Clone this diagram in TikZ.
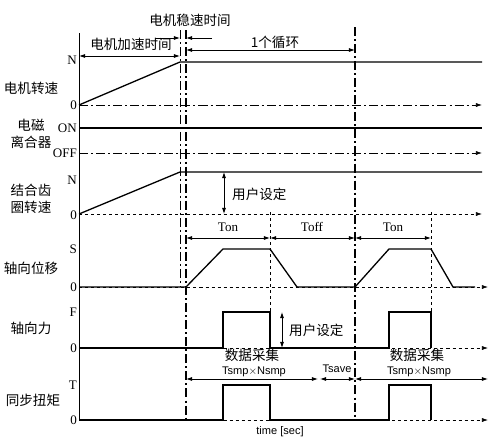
\documentclass[tikz,border=0pt]{standalone}
\usepackage{fontspec}
\setmainfont{Liberation Serif}
\setsansfont{Liberation Sans}
\newfontfamily\cjk{Noto Sans CJK SC}
\usetikzlibrary{arrows.meta}

\tikzset{
  sig/.style={line width=1.3pt},
  axisline/.style={line width=0.6pt},
  tip/.style={-{Latex[length=6pt,width=4pt]}},
  dim/.style={line width=0.8pt,{Latex[length=6pt,width=4pt]}-{Latex[length=6pt,width=4pt]}},
  dashdot/.style={dash pattern=on 9pt off 3pt on 2pt off 3pt},
  cn/.style={font=\cjk\fontsize{13.5}{17}\selectfont, align=center, inner sep=0pt},
  tick/.style={font=\fontsize{13}{15}\selectfont, anchor=east, inner sep=1pt},
  lbl/.style={font=\fontsize{13}{15}\selectfont, inner sep=0pt},
  sm/.style={font=\sffamily\fontsize{11}{12}\selectfont, inner sep=0pt}
}

\begin{document}
\begin{tikzpicture}[x=0.035cm, y=-0.035cm]
    \useasboundingbox (0,0) rectangle (500,446);

    % time axis
    \draw[axisline] (79,33) -- (79,420);

    % row labels
    \node[cn] (l1) at (31,88) {电机转速};
    \node[cn] (l2) at (31,134) {电磁\\离合器};
    \node[cn] (l3) at (31,199) {结合齿\\圈转速};
    \node[cn] (l4) at (31,268) {轴向位移};
    \node[cn] (l5) at (31,328) {轴向力};
    \node[cn] (l6) at (33,400) {同步扭矩};

    % tick labels
    \node[tick] (n1) at (78,60) {N};
    \node[tick] (z1) at (78,105) {0};
    \node[tick] (on) at (78,128) {ON};
    \node[tick] (off) at (78,153) {OFF};
    \node[tick] (n2) at (78,180) {N};
    \node[tick] (z2) at (78,215) {0};
    \node[tick] (s) at (78,249) {S};
    \node[tick] (z3) at (78,287) {0};
    \node[tick] (f) at (78,312) {F};
    \node[tick] (z4) at (78,348) {0};
    \node[tick] (t) at (78,385) {T};
    \node[tick] (z5) at (78,420) {0};

    % marker lines
    \draw[line width=0.5pt, dashdot] (180,30) -- (180,287);
    \draw[line width=1.2pt, dashdot] (186,30) -- (186,420);
    \draw[line width=1.2pt, dashdot] (355,27) -- (355,420);
    \foreach \x in {270,431}
       \draw[line width=0.6pt, dashed] (\x,212) -- (\x,312);

    % motor speed
    \draw[axisline, tip, dashdot] (79,105) -- (482,105);
    \draw[sig] (79,105) -- (180,62) -- (482,62);

    % clutch
    \draw[sig] (79,128) -- (482,128);
    \draw[axisline, tip, dashdot] (79,153) -- (482,153);

    % gear ring speed
    \draw[axisline, tip, dashed] (79,214) -- (482,214);
    \draw[sig] (79,214) -- (180,172) -- (482,172);

    % axial displacement
    \draw[axisline, tip, dashed] (79,287) -- (488,287);
    \draw[sig] (79,287) -- (186,287) -- (223,249) -- (270,249) -- (297,287)
        -- (355,287) -- (389,249) -- (431,249) -- (453,287) -- (475,287);

    % axial force and torque
    \foreach \lo/\hi in {348/312, 420/385} {
       \draw[axisline, tip, dashed] (79,\lo) -- (488,\lo);
       \draw[sig] (79,\lo) -- (223,\lo) -- (223,\hi) -- (270,\hi) -- (270,\lo)
           -- (389,\lo) -- (389,\hi) -- (431,\hi) -- (431,\lo);
    }

    % top dimensions
    \node[cn] (acc) at (131,44) {电机加速时间};
    \draw[dim] (79,56) -- (180,56);
    \node[cn] (stab) at (190,20) {电机稳速时间};
    \draw[line width=0.8pt, tip] (155,38) -- (180,38);
    \draw[line width=0.8pt, tip] (212,38) -- (186,38);
    \node[cn] (cyc) at (275,42) {1个循环};
    \draw[dim] (186,50) -- (355,50);

    % user settings
    \draw[dim] (224,172) -- (224,214);
    \node[cn, anchor=west] (us1) at (232,194) {用户设定};
    \draw[dim] (282,312) -- (282,348);
    \node[cn, anchor=west] (us2) at (289,330) {用户设定};

    % on/off times
    \node[lbl] (ton1) at (228,227) {Ton};
    \node[lbl] (toff) at (312,227) {Toff};
    \node[lbl] (ton2) at (393,227) {Ton};
    \draw[dim] (186,238) -- (270,238);
    \draw[dim] (270,238) -- (355,238);
    \draw[dim] (355,238) -- (431,238);

    % data acquisition
    \node[cn] (daq1) at (252,355) {数据采集};
    \node[sm] (smp1) at (254,372) {Tsmp$\times$Nsmp};
    \draw[dim] (186,379) -- (318,379);
    \node[sm] (sav) at (337,369) {Tsave};
    \draw[dim] (320,379) -- (355,379);
    \node[cn] (daq2) at (417,355) {数据采集};
    \node[sm] (smp2) at (419,372) {Tsmp$\times$Nsmp};
    \draw[dim] (355,379) -- (488,379);

    \node[sm] (time) at (280,432) {time [sec]};
\end{tikzpicture}
\end{document}
